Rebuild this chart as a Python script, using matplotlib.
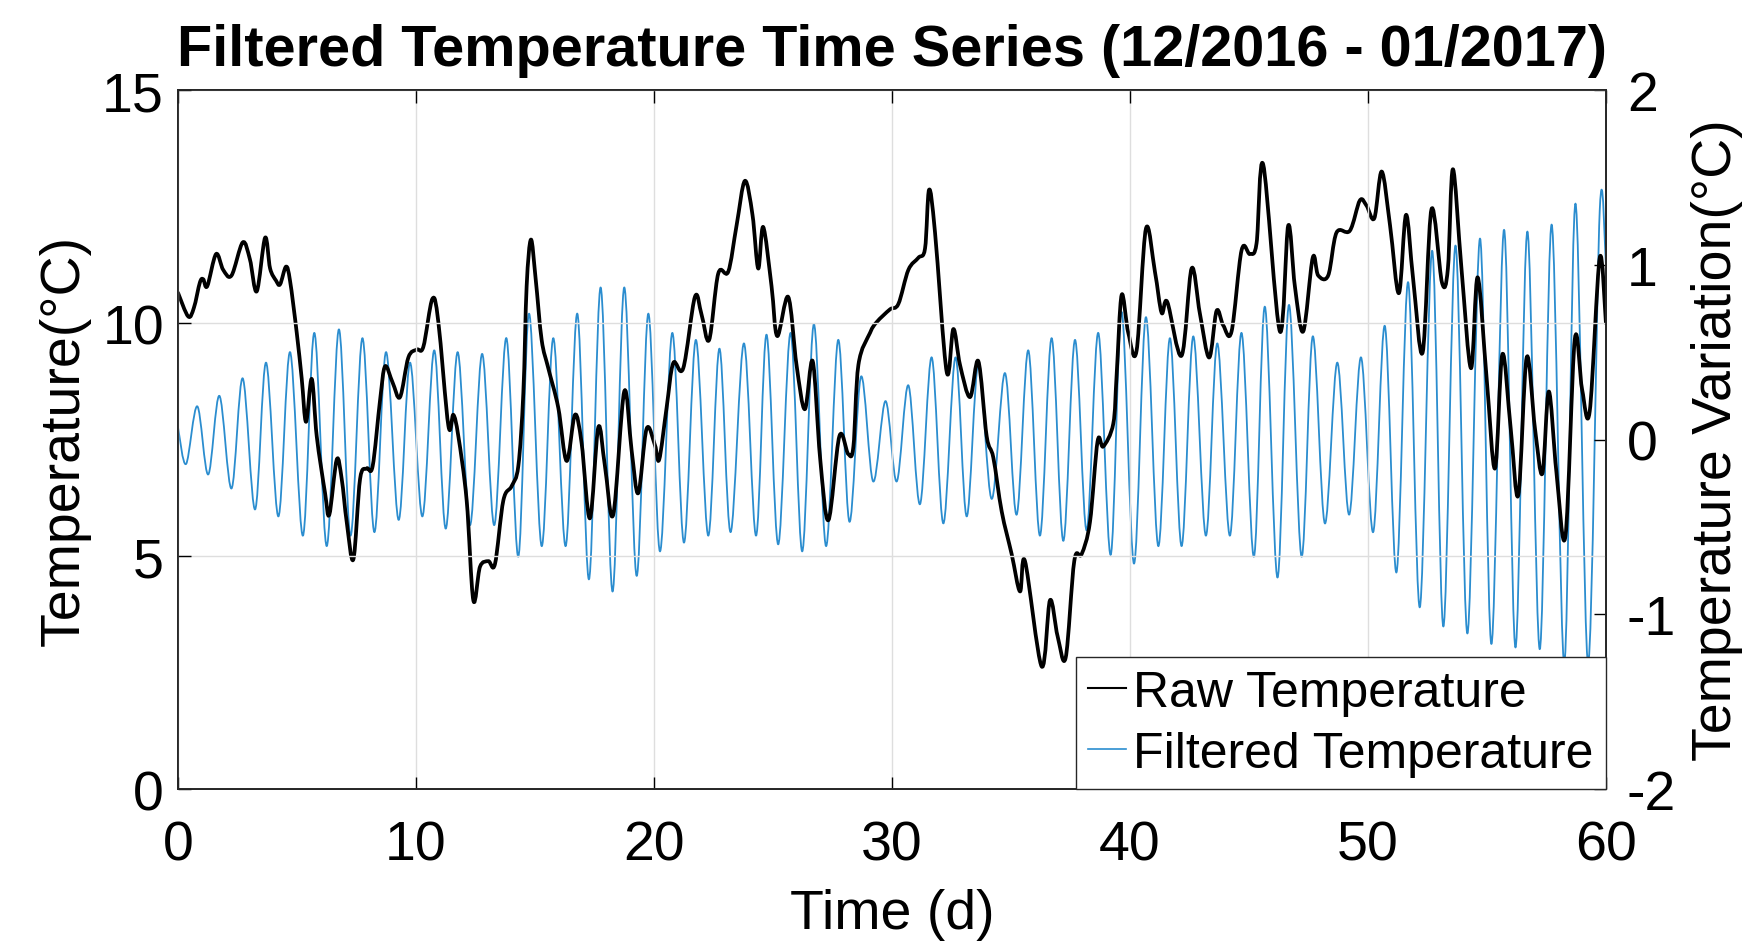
import matplotlib.pyplot as plt
from matplotlib.path import Path
from matplotlib.patches import PathPatch
from matplotlib.lines import Line2D

plt.rcParams['font.family'] = ['Liberation Sans', 'DejaVu Sans']
plt.rcParams['axes.unicode_minus'] = False

# raw temperature (left axis, degC)
raw_t = [0.0, 0.43, 0.67, 0.92, 1.06, 1.23, 1.6, 1.9, 2.25, 2.72, 3.02, 3.31, 3.66, 3.87,
         4.12, 4.29, 4.54, 4.71, 4.99, 5.2, 5.38, 5.62, 5.83, 6.18, 6.36, 6.67, 6.88, 7.09,
         7.37, 7.65, 7.93, 8.18, 8.49, 8.7, 9.02, 9.33, 9.68, 10.03, 10.31, 10.69, 10.94,
         11.36, 11.57, 11.78, 12.13, 12.41, 12.69, 13.04, 13.32, 13.67, 14.02, 14.3, 14.51,
         14.65, 14.83, 15.03, 15.28, 15.56, 15.98, 16.33, 16.68, 16.96, 17.31, 17.66, 17.94,
         18.29, 18.75, 19.06, 19.34, 19.69, 20.04, 20.22, 20.53, 20.81, 21.23, 21.72, 22.0,
         22.32, 22.7, 23.12, 23.47, 23.82, 24.14, 24.38, 24.59, 24.94, 25.18, 25.64, 25.99,
         26.34, 26.67, 26.98, 27.33, 27.79, 28.16, 28.38, 28.59, 29.08, 29.36, 29.91, 30.27,
         30.69, 31.11, 31.39, 31.56, 31.81, 32.3, 32.58, 32.86, 33.28, 33.63, 33.98, 34.26,
         34.61, 35.03, 35.38, 35.59, 36.29, 36.64, 36.96, 37.3, 37.66, 37.97, 38.32, 38.64,
         38.88, 39.3, 39.44, 39.65, 39.93, 40.28, 40.67, 41.05, 41.33, 41.57, 42.17, 42.59,
         42.94, 43.33, 43.64, 43.92, 44.27, 44.69, 45.04, 45.32, 45.6, 46.3, 46.65, 46.93,
         47.28, 47.68, 47.91, 48.33, 48.68, 49.24, 49.66, 49.94, 50.27, 50.58, 50.93, 51.3,
         51.6, 51.9, 52.3, 52.67, 53.11, 53.36, 53.57, 53.93, 54.33, 54.61, 54.99, 55.34,
         55.65, 56.0, 56.32, 56.67, 57.02, 57.33, 57.6, 57.92, 58.3, 58.69, 59.0, 59.32,
         59.74, 60.0]
raw_v = [10.65, 10.14, 10.33, 10.87, 10.94, 10.79, 11.48, 11.14, 11.02, 11.73, 11.37, 10.68,
         11.83, 11.17, 10.91, 10.83, 11.21, 10.9, 9.79, 8.8, 7.88, 8.8, 7.57, 6.35, 5.89, 7.07,
         6.65, 5.73, 4.93, 6.65, 6.88, 6.93, 8.34, 9.07, 8.72, 8.41, 9.26, 9.43, 9.49, 10.52,
         10.02, 7.8, 8.03, 7.57, 6.19, 4.05, 4.77, 4.89, 4.83, 6.19, 6.5, 6.93, 8.49, 10.79,
         11.79, 10.94, 9.64, 9.03, 8.18, 7.04, 8.03, 7.42, 5.81, 7.76, 6.93, 5.89, 8.53, 7.27,
         6.35, 7.73, 7.38, 7.07, 8.18, 9.14, 9.03, 10.56, 10.18, 9.64, 11.06, 11.1, 12.09,
         13.05, 12.32, 11.17, 12.06, 10.79, 9.72, 10.56, 9.1, 8.15, 9.18, 7.11, 5.77, 7.57,
         7.19, 7.35, 9.1, 9.79, 10.02, 10.29, 10.41, 11.14, 11.4, 11.6, 12.86, 11.94, 8.95,
         9.87, 9.1, 8.41, 9.18, 7.57, 7.11, 5.96, 5.04, 4.24, 4.89, 2.63, 4.05, 3.28, 2.82,
         4.89, 5.04, 5.73, 7.46, 7.35, 7.84, 8.88, 10.6, 9.79, 9.41, 12.02, 11.1, 10.22,
         10.45, 9.3, 11.17, 10.2, 9.26, 10.26, 9.95, 9.82, 11.56, 11.48, 11.71, 13.4, 9.82,
         12.09, 10.79, 9.82, 11.4, 11.02, 11.02, 11.94, 11.98, 12.63, 12.52, 12.25, 13.25,
         12.09, 10.64, 12.32, 10.94, 9.37, 12.44, 10.87, 11.17, 13.3, 11.17, 9.03, 10.98, 8.8,
         6.88, 9.33, 7.73, 6.31, 9.26, 7.73, 6.77, 8.53, 6.8, 5.43, 9.64, 8.57, 8.11, 11.4,
         10.0]

# filtered temperature variation (right axis, degC), daily highs and lows
filt_t = [0.0, 0.34, 0.81, 1.27, 1.74, 2.25, 2.72, 3.24, 3.7, 4.22, 4.71, 5.25, 5.73, 6.25,
          6.76, 7.25, 7.75, 8.25, 8.74, 9.27, 9.75, 10.27, 10.77, 11.25, 11.75, 12.27, 12.78,
          13.29, 13.8, 14.3, 14.75, 15.28, 15.77, 16.29, 16.78, 17.27, 17.76, 18.26, 18.75,
          19.27, 19.76, 20.25, 20.77, 21.26, 21.76, 22.28, 22.75, 23.22, 23.78, 24.29, 24.73,
          25.22, 25.74, 26.23, 26.72, 27.23, 27.74, 28.21, 28.7, 29.21, 29.73, 30.2, 30.69,
          31.18, 31.67, 32.16, 32.67, 33.14, 33.63, 34.19, 34.75, 35.24, 35.73, 36.22, 36.71,
          37.2, 37.69, 38.18, 38.67, 39.19, 39.65, 40.17, 40.67, 41.19, 41.68, 42.17, 42.66,
          43.19, 43.67, 44.2, 44.69, 45.21, 45.67, 46.2, 46.68, 47.21, 47.68, 48.19, 48.71,
          49.21, 49.71, 50.22, 50.71, 51.2, 51.69, 52.18, 52.7, 53.17, 53.68, 54.18, 54.71,
          55.19, 55.72, 56.2, 56.7, 57.22, 57.72, 58.25, 58.72, 59.25, 59.74, 60.0]
filt_v = [0.07, -0.14, 0.19, -0.2, 0.25, -0.28, 0.35, -0.4, 0.44, -0.44, 0.5, -0.55, 0.61,
          -0.61, 0.63, -0.55, 0.58, -0.53, 0.5, -0.46, 0.44, -0.44, 0.51, -0.51, 0.5, -0.49,
          0.49, -0.49, 0.58, -0.67, 0.72, -0.61, 0.58, -0.61, 0.72, -0.8, 0.87, -0.87, 0.87,
          -0.78, 0.72, -0.64, 0.61, -0.59, 0.57, -0.55, 0.52, -0.53, 0.55, -0.55, 0.6, -0.6,
          0.61, -0.64, 0.66, -0.61, 0.57, -0.47, 0.36, -0.24, 0.22, -0.24, 0.31, -0.37, 0.47,
          -0.48, 0.47, -0.44, 0.43, -0.34, 0.38, -0.43, 0.51, -0.55, 0.58, -0.58, 0.57, -0.52,
          0.61, -0.66, 0.73, -0.71, 0.7, -0.61, 0.58, -0.61, 0.59, -0.55, 0.55, -0.55, 0.61,
          -0.67, 0.76, -0.79, 0.77, -0.67, 0.59, -0.48, 0.44, -0.43, 0.47, -0.53, 0.65, -0.76,
          0.9, -0.96, 1.08, -1.07, 1.11, -1.11, 1.15, -1.17, 1.2, -1.19, 1.19, -1.2, 1.23,
          -1.28, 1.35, -1.28, 1.31, 1.0]

xticks = [0, 10, 20, 30, 40, 50, 60]
left_ticks = [0, 5, 10, 15]
right_ticks = [-2, -1, 0, 1, 2]

raw_color = 'black'
filt_color = '#2b8dcf'


def smooth_path(t, v):
    # smooth curve through the read points (cubic bezier segments)
    pts = list(zip(t, v))
    n = len(pts)
    verts = [pts[0]]
    codes = [Path.MOVETO]
    for i in range(n - 1):
        p0 = pts[max(i - 1, 0)]
        p1 = pts[i]
        p2 = pts[i + 1]
        p3 = pts[min(i + 2, n - 1)]
        c1 = (p1[0] + (p2[0] - p0[0]) / 6, p1[1] + (p2[1] - p0[1]) / 6)
        c2 = (p2[0] - (p3[0] - p1[0]) / 6, p2[1] - (p3[1] - p1[1]) / 6)
        verts += [c1, c2, p2]
        codes += [Path.CURVE4] * 3
    return Path(verts, codes)


fig = plt.figure(figsize=(17.45, 9.45), dpi=100)
ax1 = fig.add_axes([0.102, 0.164, 0.8183, 0.7397])
ax2 = ax1.twinx()
ax1.set_zorder(ax2.get_zorder() + 1)
ax1.patch.set_visible(False)

ax1.add_patch(PathPatch(smooth_path(raw_t, raw_v), fill=False, edgecolor=raw_color,
                        lw=2.7, joinstyle='round', capstyle='round'))
ax2.add_patch(PathPatch(smooth_path(filt_t, filt_v), fill=False, edgecolor=filt_color,
                        lw=1.3, joinstyle='round'))

ax1.set_xlim(0, 60)
ax1.set_ylim(0, 15)
ax2.set_ylim(-2, 2)
ax1.set_xticks(xticks)
ax1.set_yticks(left_ticks)
ax2.set_yticks(right_ticks)

ax1.grid(True, color='#dedede', lw=1)
ax1.tick_params(axis='x', direction='in', top=True, length=9, width=1, labelsize=40, pad=22)
ax1.tick_params(axis='y', direction='in', length=9, width=1, labelsize=40, pad=10)
ax2.tick_params(axis='y', direction='in', length=9, width=1, labelsize=40, pad=15)
for ax in (ax1, ax2):
    for s in ax.spines.values():
        s.set_color('#262626')
        s.set_linewidth(1.3)

ax1.set_xlabel('Time (d)', fontsize=40, labelpad=12)
ax1.set_ylabel('Temperature(°C)', fontsize=40, labelpad=8)
ax2.set_ylabel('Temperature Variation(°C)', fontsize=40, labelpad=10.5)
ax1.set_title('Filtered Temperature Time Series (12/2016 - 01/2017)', fontsize=41.5,
              fontweight='bold', pad=18)

handles = [Line2D([], [], color=raw_color, lw=1.5), Line2D([], [], color=filt_color, lw=1.2)]
leg = ax1.legend(handles, ['Raw Temperature', 'Filtered Temperature'], loc='lower right',
                 fontsize=36, borderaxespad=0, borderpad=0.25, labelspacing=0.3,
                 handlelength=0.75, handletextpad=0.15, fancybox=False, framealpha=1)
leg.get_frame().set_edgecolor('#262626')
leg.get_frame().set_linewidth(1.0)

fig.savefig('out.png', dpi=100)
